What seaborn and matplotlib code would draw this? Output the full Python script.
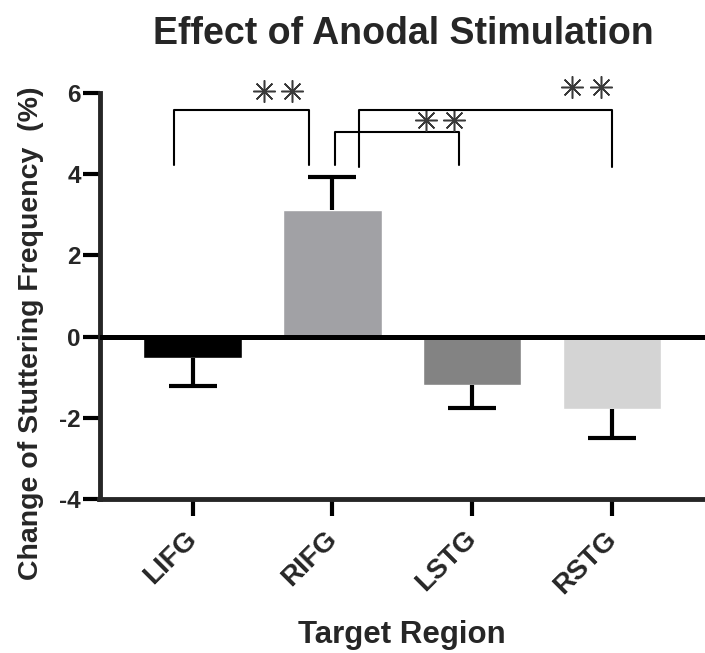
import matplotlib
matplotlib.use("Agg")
import matplotlib.pyplot as plt
import matplotlib.transforms as mtransforms
import seaborn as sns
import pandas as pd
import numpy as np

regions = ["LIFG", "RIFG", "LSTG", "RSTG"]
means = [-0.53, 3.12, -1.19, -1.79]
sem = [0.69, 0.82, 0.56, 0.71]
colors = ["#000000", "#a1a1a5", "#838383", "#d4d4d4"]
yticks = [-4, -2, 0, 2, 4, 6]

# significance brackets: (left x, right x, top y, leg bottom y, star center x, star y)
brackets = [(-0.13, 0.83, 5.58, 4.23, 0.61, 6.05),
            (1.02, 1.91, 5.03, 4.23, 1.77, 5.33),
            (1.19, 3.00, 5.58, 4.18, 2.82, 6.14)]
star_labels = ["**", "**", "**"]

sns.set_style("ticks")
plt.rcParams['font.family'] = ['Liberation Sans', 'DejaVu Sans']

W, H = 705, 653
fig = plt.figure(figsize=(W / 100, H / 100), dpi=100)
ax_left, ax_bottom = 99.5 / W, 1 - 499 / H
ax_w, ax_h = 1 - ax_left, (499 - 93) / H
ax = fig.add_axes([ax_left, ax_bottom, ax_w, ax_h])

df = pd.DataFrame({"region": regions, "mean": means})
sns.barplot(data=df, x="region", y="mean", hue="region", palette=colors,
            width=0.705, errorbar=None, legend=False, ax=ax, saturation=1)

xpos = np.arange(len(regions))
lower = [s if m < 0 else 0 for m, s in zip(means, sem)]
upper = [s if m >= 0 else 0 for m, s in zip(means, sem)]
ax.errorbar(xpos, means, yerr=[lower, upper], fmt="none",
            ecolor="black", elinewidth=3, capsize=0, zorder=3)
ends = [m + u - l for m, u, l in zip(means, upper, lower)]
ax.plot(xpos, ends, linestyle="none", marker="_", markersize=34.5,
        markeredgewidth=3, color="black", zorder=3)

ax.axhline(0, color="black", lw=3.6, zorder=4)

ax.set_ylim(-4, 6)
ax.set_xlim(-0.666, 3.667)
ax.set_yticks(yticks)
ax.set_yticklabels([str(t) for t in yticks], fontsize=17.5, fontweight="bold")
ax.set_xticks(xpos)
ax.set_xticklabels(regions, fontsize=20, fontweight="bold", rotation=45,
                   ha="right", va="baseline", rotation_mode="anchor")
sns.despine(ax=ax)
for s in ["left", "bottom"]:
    ax.spines[s].set_linewidth(3.5)
ax.tick_params(axis="both", width=3, length=12, color="black")
ax.tick_params(axis="y", pad=1.5)
ax.tick_params(axis="x", pad=17.5)
for lab in ax.get_xticklabels():
    lab.set_transform(lab.get_transform() +
                      mtransforms.ScaledTranslation(0.054, 0, fig.dpi_scale_trans))

ax.set_xlabel("Target Region", fontsize=22.5, fontweight="bold")
ax.xaxis.set_label_coords(402 / W, 1 - 620 / H, transform=fig.transFigure)
ax.set_ylabel("Change of Stuttering Frequency  (%)", fontsize=20.5, fontweight="bold")
ax.yaxis.set_label_coords(44 / W, 1 - 333 / H, transform=fig.transFigure)
ax.set_title("Effect of Anodal Stimulation", fontsize=27, fontweight="bold",
             x=(403 / W - ax_left) / ax_w, y=((1 - 43.5 / H) - ax_bottom) / ax_h, pad=0)

for (x0, x1, yt, yb, sx, sy), lab in zip(brackets, star_labels):
    ax.plot([x0, x0, x1, x1], [yb, yt, yt, yb], color="black", lw=1.5,
            clip_on=False, zorder=5)
    n = len(lab)
    offs = (np.arange(n) - (n - 1) / 2) * 0.204
    ax.plot(sx + offs, [sy] * n, linestyle="none", marker=(8, 2, 0),
            markersize=16, markeredgewidth=1.1, color="#3a3a3a",
            clip_on=False, zorder=5)

fig.savefig("out.png", dpi=100)
